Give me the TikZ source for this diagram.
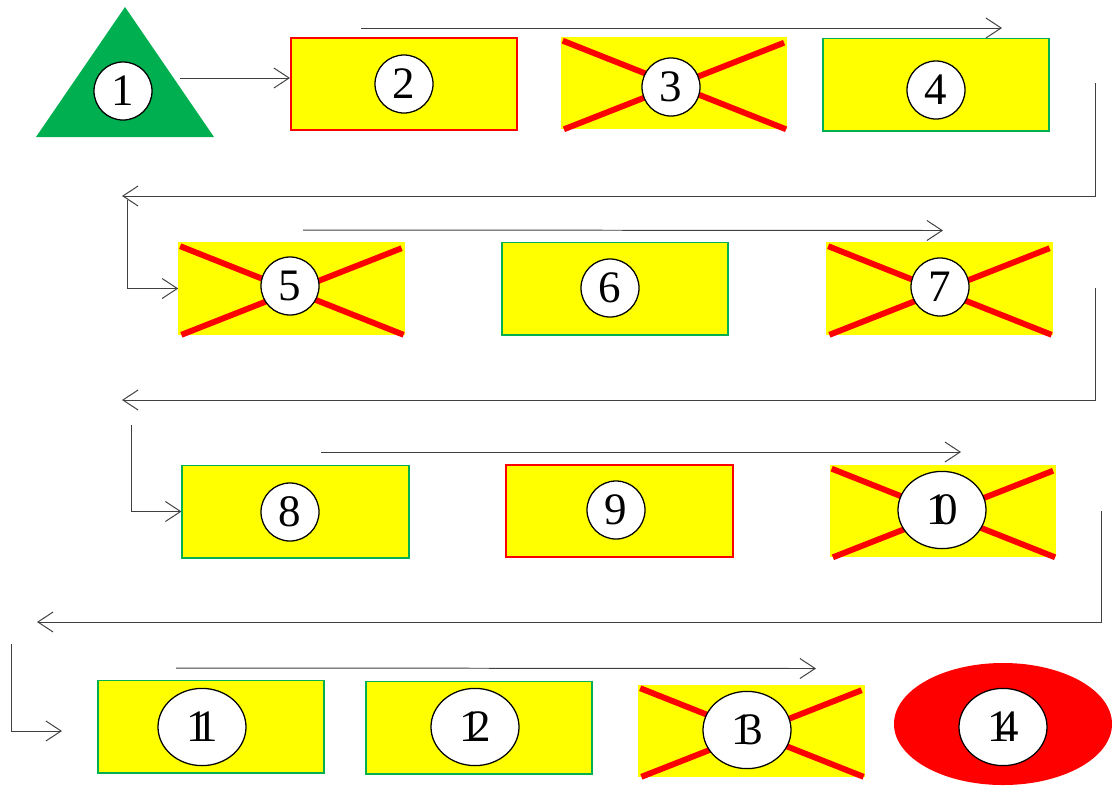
\documentclass[tikz,border=0pt]{standalone}
\usepackage{fontspec}
\setmainfont{Liberation Serif}
\usetikzlibrary{shapes.geometric,arrows.meta}
\definecolor{fillyellow}{HTML}{FFFF00}
\definecolor{pureRed}{HTML}{FF0000}
\definecolor{okGreen}{HTML}{00B050}
\definecolor{wireGray}{HTML}{404040}
% two digits set close together
\newcommand{\pairdig}[2]{#1\kern-0.3em#2}
\begin{document}
\begin{tikzpicture}[x=0.025cm,y=-0.025cm,
  card/.style={rectangle, fill=fillyellow, minimum width=5.65cm, minimum height=2.3cm, inner sep=0pt},
  redcard/.style={card, draw=pureRed, line width=1.4pt},
  greencard/.style={card, draw=okGreen, line width=1.4pt},
  cross/.style={draw=pureRed, line width=4.2pt},
  num/.style={circle, draw=black, fill=white, line width=0.9pt, minimum size=1.45cm, inner sep=0pt,
              font=\fontsize{32}{32}\selectfont},
  wnum/.style={ellipse, draw=black, fill=white, line width=0.9pt, minimum width=2.2cm, minimum height=1.93cm,
              inner sep=0pt, font=\fontsize{32}{32}\selectfont},
  arr/.style={draw=wireGray, line width=0.7pt, -{Straight Barb[length=0.38cm, width=0.5cm, line width=0.7pt]}},
  wire/.style={draw=wireGray, line width=0.7pt}]
\useasboundingbox (0,0) rectangle (1112,785);

% start triangle
\coordinate (tA) at (125,7);
\coordinate (tB) at (214,137);
\coordinate (tC) at (36,137);
\fill[okGreen] (tA) -- (tB) -- (tC) -- cycle;

% cards
\node[redcard]   (b2)  at (404,84) {};
\node[card]      (b3)  at (674,83) {};
\node[greencard] (b4)  at (936,84.5) {};
\node[card]      (b5)  at (291.5,288.5) {};
\node[greencard] (b6)  at (615,288.5) {};
\node[card]      (b7)  at (939.5,288.5) {};
\node[greencard] (b8)  at (295.5,511.5) {};
\node[redcard]   (b9)  at (619.5,511) {};
\node[card]      (b10) at (943,511) {};
\node[greencard] (b11) at (211,726.5) {};
\node[greencard] (b12) at (479,727.5) {};
\node[card]      (b13) at (751.5,730.5) {};

% end ellipse
\node[ellipse, fill=pureRed, minimum width=5.45cm, minimum height=3.05cm, inner sep=0pt] (e14) at (1003,724) {};

% crossed-out cards
\foreach \b in {b3,b5,b7,b10,b13}{
  \draw[cross] ([shift={(0.05cm,-0.1cm)}]\b.north west) -- ([xshift=-0.03cm]\b.south east);
  \draw[cross] ([xshift=0.08cm]\b.south west) -- ([shift={(-0.08cm,-0.15cm)}]\b.north east);
}

% numbered markers
\node[num] (c1) at (123,91) {1};
\node[num] (c2) at (404,84) {2};
\node[num] (c3) at (671,87) {3};
\node[num] (c4) at (936,90) {4};
\node[num] (c5) at (290,286) {5};
\node[num] (c6) at (610,288) {6};
\node[num] (c7) at (940,287) {7};
\node[num] (c8) at (290,512) {8};
\node[num] (c9) at (616,510) {9};
\node[wnum] (c10) at (942,510) {\pairdig{1}{0}};
\node[wnum] (c11) at (202,727) {\pairdig{1}{1}};
\node[wnum] (c12) at (475,727) {\pairdig{1}{2}};
\node[wnum] (c13) at (747,730) {\pairdig{1}{3}};
\node[wnum] (c14) at (1003,727) {\pairdig{1}{4}};

% first step
\coordinate (s1) at (180,78);
\draw[arr] (s1) -- (s1 -| b2.west);

% row arrows
\coordinate (ra1) at (361,28);   \coordinate (rb1) at (1002,28);
\coordinate (ra2) at (303,230);  \coordinate (rb2) at (943,230.5);
\coordinate (ra3) at (321,452);  \coordinate (rb3) at (961,452);
\coordinate (ra4) at (176,668);  \coordinate (rb4) at (816,668.5);
\draw[arr] (ra1) -- (rb1);
\draw[arr] (ra2) -- (rb2);
\draw[arr] (ra3) -- (rb3);
\draw[arr] (ra4) -- (rb4);

% returns between rows
\coordinate (u1) at (1095,83);  \coordinate (v1) at (1095,196); \coordinate (w1) at (122,196);
\draw[arr] (u1) -- (v1) -- (w1);
\coordinate (d1) at (127,200);
\draw[arr] (d1) |- (b5.west);

\coordinate (u2) at (1095,288); \coordinate (v2) at (1095,400); \coordinate (w2) at (122,400);
\draw[arr] (u2) -- (v2) -- (w2);
\coordinate (d2) at (131,425);
\draw[arr] (d2) |- (b8.west);

\coordinate (u3) at (1101,511); \coordinate (v3) at (1101,622); \coordinate (w3) at (37,622);
\draw[arr] (u3) -- (v3) -- (w3);
\coordinate (d3) at (11,644); \coordinate (f3) at (62,731);
\draw[arr] (d3) |- (f3);
\end{tikzpicture}
\end{document}
